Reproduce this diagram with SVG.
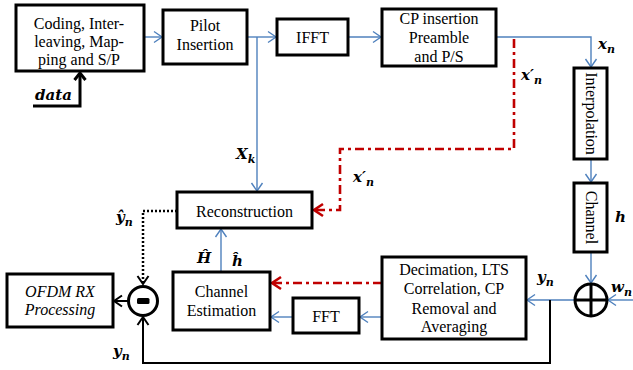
<svg xmlns="http://www.w3.org/2000/svg" width="633" height="370" viewBox="0 0 633 370">
<style>
.box{fill:#fff;stroke:#000;stroke-width:3}
.t{font-family:"Liberation Serif","Times New Roman",serif;font-size:16px;fill:#000;text-anchor:middle}
.ti{font-style:italic}
.m{font-family:"DejaVu Serif",serif;font-weight:bold;font-style:italic;font-size:15px;fill:#000}
.s{font-size:11px}
.blue{fill:none;stroke:#4F81BD;stroke-width:1.4}
.red{fill:none;stroke:#C00000;stroke-width:2.6;stroke-dasharray:9,4,3,4}
.blk{fill:none;stroke:#000;stroke-width:2}
.dot{fill:none;stroke:#000;stroke-width:2.5;stroke-dasharray:2,2}
</style>
<defs>
<marker id="ab" viewBox="-10 -7 12 14" refX="0" refY="0" markerWidth="12" markerHeight="14" markerUnits="userSpaceOnUse" orient="auto"><path d="M-8,-5.5 L0,0 L-8,5.5" fill="none" stroke="#4F81BD" stroke-width="1.4"/></marker>
<marker id="ar" viewBox="-12 -8 14 16" refX="0" refY="0" markerWidth="14" markerHeight="16" markerUnits="userSpaceOnUse" orient="auto"><path d="M-9,-6 L0,0 L-9,6" fill="none" stroke="#C00000" stroke-width="2.6"/></marker>
<marker id="ak" viewBox="-10 -7 12 14" refX="0" refY="0" markerWidth="12" markerHeight="14" markerUnits="userSpaceOnUse" orient="auto"><path d="M-8,-5.5 L0,0 L-8,5.5" fill="none" stroke="#000" stroke-width="2"/></marker>
<marker id="ak3" viewBox="-10 -7 12 14" refX="0" refY="0" markerWidth="12" markerHeight="14" markerUnits="userSpaceOnUse" orient="auto"><path d="M-7,-5.5 L0,0 L-7,5.5" fill="none" stroke="#000" stroke-width="3"/></marker>
</defs>

<g id="connectors">
<path class="blue" d="M144,37 H162" marker-end="url(#ab)"/>
<path class="blue" d="M247,37 H276" marker-end="url(#ab)"/>
<path class="blue" d="M257,37 V191" marker-end="url(#ab)"/>
<path class="blue" d="M348,37 H381" marker-end="url(#ab)"/>
<path class="blue" d="M496,37 H591 V67" marker-end="url(#ab)"/>
<path class="blue" d="M591,159 V182" marker-end="url(#ab)"/>
<path class="blue" d="M591,252 V283" marker-end="url(#ab)"/>
<path class="blue" d="M633,300 H608" marker-end="url(#ab)"/>
<path class="blue" d="M575,300 H527" marker-end="url(#ab)"/>
<path class="blue" d="M382,317 H360" marker-end="url(#ab)"/>
<path class="blue" d="M293,317 H271" marker-end="url(#ab)"/>
<path class="blue" d="M221,272 V229" marker-end="url(#ab)"/>
<path class="red" d="M514,39 V149 H340 V210 H314" marker-end="url(#ar)"/>
<path class="red" d="M382,283 H272" marker-end="url(#ar)"/>
<path class="dot" d="M177,211 H143 V284" marker-end="url(#ak)"/>
<path class="blk" d="M128,301 H114" marker-end="url(#ak)"/>
<path class="blk" d="M550,300 V363 H143 V317" marker-end="url(#ak)"/>
<path fill="none" stroke="#000" stroke-width="3" d="M33,106 H80 V73" marker-end="url(#ak3)"/>
</g>

<g id="coding">
<rect class="box" x="16" y="5" width="128" height="66"/>
<text class="t" x="79" y="29">Coding, Inter-</text>
<text class="t" x="79" y="47">leaving, Map-</text>
<text class="t" x="79" y="65">ping and S/P</text>
</g>
<g id="pilot">
<rect class="box" x="163" y="10" width="84" height="54"/>
<text class="t" x="205" y="31">Pilot</text>
<text class="t" x="205" y="50">Insertion</text>
</g>
<g id="ifft">
<rect class="box" x="277" y="19" width="71" height="36"/>
<text class="t" x="312.5" y="43">IFFT</text>
</g>
<g id="cp">
<rect class="box" x="382" y="9" width="114" height="57"/>
<text class="t" x="439" y="24">CP insertion</text>
<text class="t" x="439" y="43">Preamble</text>
<text class="t" x="439" y="62">and P/S</text>
</g>
<g id="interp">
<rect class="box" x="574" y="68" width="33" height="91"/>
<text class="t" transform="translate(586,113.5) rotate(90)">Interpolation</text>
</g>
<g id="channel">
<rect class="box" x="574" y="183" width="33" height="69"/>
<text class="t" transform="translate(586,217.5) rotate(90)">Channel</text>
</g>
<g id="plus">
<circle cx="591" cy="300" r="16" fill="#fff" stroke="#000" stroke-width="3"/>
<path d="M591,284 V316 M575,300 H607" stroke="#000" stroke-width="3"/>
</g>
<g id="decimation">
<rect class="box" x="382" y="257" width="144" height="82"/>
<text class="t" x="454" y="275">Decimation, LTS</text>
<text class="t" x="454" y="294">Correlation, CP</text>
<text class="t" x="454" y="313.5">Removal  and</text>
<text class="t" x="454" y="332">Averaging</text>
</g>
<g id="fft">
<rect class="box" x="293" y="298" width="66" height="35"/>
<text class="t" x="326" y="322">FFT</text>
</g>
<g id="chest">
<rect class="box" x="173" y="272" width="97" height="58"/>
<text class="t" x="221.5" y="297">Channel</text>
<text class="t" x="221.5" y="316">Estimation</text>
</g>
<g id="recon">
<rect class="box" x="177" y="192" width="135" height="36"/>
<text class="t" x="244.5" y="217">Reconstruction</text>
</g>
<g id="minus">
<circle cx="143" cy="301" r="14.5" fill="#fff" stroke="#000" stroke-width="3"/>
<rect x="137" y="298" width="12.5" height="6" rx="1.5" fill="#000"/>
</g>
<g id="ofdm">
<rect class="box" x="7" y="274" width="106" height="53"/>
<text class="t ti" x="60" y="297">OFDM RX</text>
<text class="t ti" x="60" y="315">Processing</text>
</g>

<g id="labels">
<text class="m" x="35" y="100">data</text>
<text class="m" x="598" y="49">x<tspan class="s" dy="4">n</tspan></text>
<text class="m" x="521" y="80">x′<tspan class="s" dy="4">n</tspan></text>
<text class="m" x="353" y="182">x′<tspan class="s" dy="4">n</tspan></text>
<text class="m" x="236" y="159">X<tspan class="s" dy="4">k</tspan></text>
<text class="m" x="197" y="263">Ĥ</text>
<text class="m" x="232" y="266">ĥ</text>
<text class="m" x="116" y="222">ŷ<tspan class="s" dy="4">n</tspan></text>
<text class="m" x="113" y="356">y<tspan class="s" dy="4">n</tspan></text>
<text class="m" x="537" y="282">y<tspan class="s" dy="4">n</tspan></text>
<text class="m" x="611" y="292">w<tspan class="s" dy="4">n</tspan></text>
<text class="m" x="615" y="222">h</text>
</g>
</svg>
